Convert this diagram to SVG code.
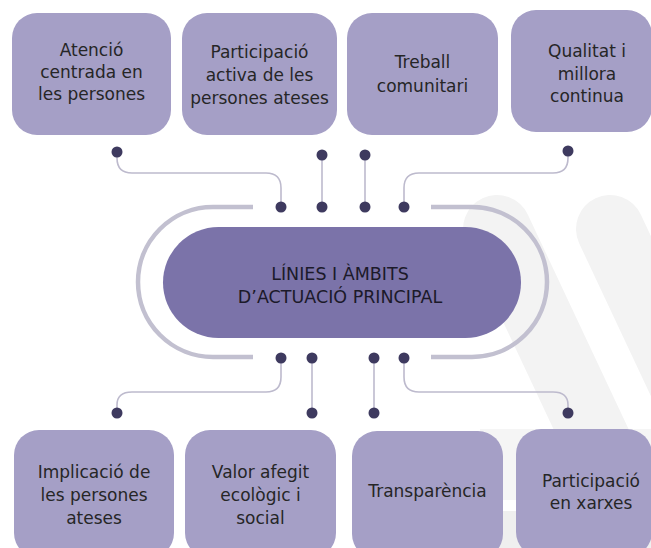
<svg xmlns="http://www.w3.org/2000/svg" width="651" height="548" viewBox="0 0 651 548">
<style>
.box{fill:#A59FC6}
.t{font-family:"DejaVu Sans","Liberation Sans",sans-serif;font-size:17px;fill:#262626;text-anchor:middle}
.ct{font-family:"DejaVu Sans","Liberation Sans",sans-serif;font-size:17.5px;fill:#1c1a2a;text-anchor:middle}
.conn{fill:none;stroke:#BDBACD;stroke-width:1.6}
.brk{fill:none;stroke:#C2C0D0;stroke-width:4.5}
.dot{fill:#3E3A5F}
.wm{stroke:#F3F3F3;stroke-width:68;stroke-linecap:round;fill:none}
</style>
<rect width="651" height="548" fill="#fff"/>
<g id="watermark">
<line class="wm" x1="497" y1="229" x2="685" y2="629"/>
<line class="wm" x1="610" y1="229" x2="798" y2="629"/>
<rect x="480" y="429" width="171" height="71" fill="#F5F5F5"/>
<rect x="480" y="511" width="171" height="37" fill="#EFEFEF"/>
</g>
<g id="connectors">
<path class="brk" d="M253,207 H213 A75,75 0 0 0 213,357 H253"/>
<path class="brk" d="M431,207 H472 A75,75 0 0 1 472,357 H431"/>
<path class="conn" d="M117,152 V158 Q117,173 132,173 H266 Q281,173 281,188 V207"/>
<path class="conn" d="M322,155 V207"/>
<path class="conn" d="M365,155 V207"/>
<path class="conn" d="M568,151 V158 Q568,173 553,173 H419 Q404,173 404,188 V207"/>
<path class="conn" d="M281,358 V377 Q281,392 266,392 H132 Q117,392 117,405 V413"/>
<path class="conn" d="M312,358 V413"/>
<path class="conn" d="M374,358 V413"/>
<path class="conn" d="M404,358 V377 Q404,392 419,392 H553 Q568,392 568,405 V413"/>
<g class="dot">
<circle cx="117" cy="152" r="5.5"/><circle cx="322" cy="155" r="5.5"/><circle cx="365" cy="155" r="5.5"/><circle cx="568" cy="151" r="5.5"/>
<circle cx="281" cy="207" r="5.5"/><circle cx="322" cy="207" r="5.5"/><circle cx="365" cy="207" r="5.5"/><circle cx="404" cy="207" r="5.5"/>
<circle cx="281" cy="358" r="5.5"/><circle cx="312" cy="358" r="5.5"/><circle cx="374" cy="358" r="5.5"/><circle cx="404" cy="358" r="5.5"/>
<circle cx="117" cy="413" r="5.5"/><circle cx="312" cy="413" r="5.5"/><circle cx="374" cy="413" r="5.5"/><circle cx="568" cy="413" r="5.5"/>
</g>
</g>
<g id="center">
<rect x="163" y="227" width="358" height="111" rx="55.5" fill="#7B73A9"/>
<text class="ct" x="340" y="280">LÍNIES I ÀMBITS</text>
<text class="ct" x="340" y="303">D’ACTUACIÓ PRINCIPAL</text>
</g>
<g id="n1">
<rect class="box" x="12" y="13" width="159" height="122" rx="25"/>
<text class="t" x="91.5" y="56">Atenció</text>
<text class="t" x="91.5" y="78">centrada en</text>
<text class="t" x="91.5" y="100">les persones</text>
</g>
<g id="n2">
<rect class="box" x="182" y="13" width="155" height="122" rx="25"/>
<text class="t" x="259.5" y="58">Participació</text>
<text class="t" x="259.5" y="81">activa de les</text>
<text class="t" x="259.5" y="104">persones ateses</text>
</g>
<g id="n3">
<rect class="box" x="347" y="13" width="151" height="122" rx="25"/>
<text class="t" x="422.5" y="68">Treball</text>
<text class="t" x="422.5" y="92">comunitari</text>
</g>
<g id="n4">
<rect class="box" x="511" y="10" width="141" height="122" rx="25"/>
<text class="t" x="587" y="57">Qualitat i</text>
<text class="t" x="587" y="80">millora</text>
<text class="t" x="587" y="102">continua</text>
</g>
<g id="n5">
<rect class="box" x="14" y="430" width="160" height="128" rx="25"/>
<text class="t" x="94" y="478">Implicació de</text>
<text class="t" x="94" y="501">les persones</text>
<text class="t" x="94" y="524">ateses</text>
</g>
<g id="n6">
<rect class="box" x="185" y="430" width="151" height="128" rx="25"/>
<text class="t" x="260.5" y="478">Valor afegit</text>
<text class="t" x="260.5" y="501">ecològic i</text>
<text class="t" x="260.5" y="524">social</text>
</g>
<g id="n7">
<rect class="box" x="352" y="431" width="151" height="128" rx="25"/>
<text class="t" x="427.5" y="497">Transparència</text>
</g>
<g id="n8">
<rect class="box" x="516" y="429" width="136" height="128" rx="25"/>
<text class="t" x="591" y="487">Participació</text>
<text class="t" x="591" y="509">en xarxes</text>
</g>
</svg>
